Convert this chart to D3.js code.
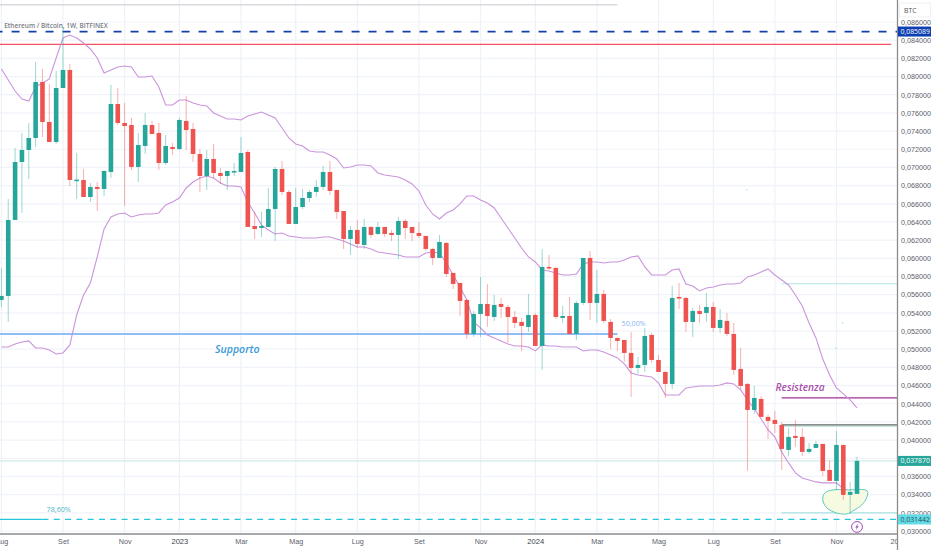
<!DOCTYPE html>
<html lang="it">

<head>
    <meta charset="UTF-8">
    <title>Ethereum / Bitcoin, 1W, BITFINEX</title>
    <script src="https://d3js.org/d3.v7.min.js"></script>
    <style>
        body {
            margin: 0;
            background: #fff;
            overflow: hidden;
        }

        svg {
            display: block;
            font-family: 'Open Sans', 'Noto Sans', sans-serif;
        }

        .axis text {
            font-size: 7.2px;
            fill: #5d606b;
        }
    </style>
</head>

<body>
    <div id="chart"></div>

    <script>
        const width = 932;
        const height = 550;

        // all prices are in 0.00001 BTC, one entry per week
        const opens = [5542, 5586, 6422, 7060, 7192, 7324, 7940, 7500, 7280, 7874, 8072, 6851, 6862, 6675, 6785, 6763, 6950, 7698, 7489, 7467, 7005, 7236, 7467, 7379, 7049, 7225, 7203, 7511, 7423, 7148, 6906, 7093, 6939, 6906, 6944, 6950, 7170, 6356, 6334, 6345, 6543, 6983, 6730, 6378, 6565, 6664, 6730, 6785, 6950, 6752, 6521, 6213, 6312, 6147, 6345, 6268, 6345, 6279, 6257, 6411, 6345, 6279, 6246, 6103, 6004, 6169, 5839, 5729, 5542, 5168, 5388, 5498, 5355, 5498, 5465, 5355, 5300, 5245, 5377, 5036, 5905, 5894, 5344, 5366, 5168, 5509, 6004, 5509, 5608, 5300, 5124, 5102, 4959, 4794, 4827, 5157, 4882, 4750, 4618, 5575, 5564, 5300, 5421, 5399, 5465, 5234, 5311, 5168, 4783, 4618, 4332, 4453, 4255, 4222, 4167, 3892, 4046, 4035, 3870, 3914, 3958, 3672, 3551, 3947, 3397, 3408];
        const highs = [5894, 6653, 7214, 7379, 7489, 8160, 8083, 7918, 8061, 8545, 8138, 7159, 6983, 6829, 6840, 6970, 7907, 7874, 7709, 7544, 7379, 7599, 7511, 7489, 7357, 7269, 7544, 7786, 7489, 7203, 7192, 7258, 6994, 6961, 7049, 7335, 7192, 6510, 6510, 6774, 7005, 7071, 6752, 6774, 6763, 6752, 6862, 7016, 7071, 6752, 6521, 6356, 6422, 6433, 6356, 6400, 6345, 6312, 6455, 6433, 6345, 6400, 6246, 6114, 6257, 6180, 5839, 5729, 5553, 5421, 5795, 5718, 5597, 5564, 5487, 5421, 5344, 5608, 5399, 6103, 6037, 5905, 5476, 5575, 5531, 6004, 6081, 5872, 5652, 5333, 5124, 5102, 5190, 4915, 5234, 5179, 4937, 4761, 5696, 5729, 5575, 5454, 5487, 5619, 5520, 5443, 5399, 5289, 5014, 4629, 4596, 4486, 4277, 4321, 4200, 4134, 4222, 4134, 3969, 3991, 3958, 3771, 4101, 3947, 3540, 3815];
        const lows = [5465, 5300, 6422, 6499, 6873, 7225, 7335, 7280, 7258, 7874, 6796, 6653, 6675, 6620, 6521, 6686, 6884, 7467, 6576, 6972, 6840, 7148, 7368, 6972, 7027, 7137, 7192, 7192, 7060, 6730, 6752, 6884, 6818, 6752, 6906, 6950, 6345, 6213, 6235, 6345, 6191, 6697, 6378, 6378, 6543, 6620, 6675, 6752, 6697, 6433, 6103, 6037, 6114, 6103, 6224, 6257, 6235, 6191, 5993, 6213, 6191, 6224, 6081, 5927, 6004, 5795, 5663, 5366, 5113, 5135, 5135, 5245, 5311, 5344, 5069, 5234, 4981, 5190, 5036, 4772, 5872, 5333, 5289, 5168, 5102, 5487, 5322, 5289, 5289, 5003, 4981, 4860, 4475, 4728, 4750, 4849, 4750, 4464, 4563, 5443, 5190, 5135, 5289, 5300, 5190, 5179, 5146, 4717, 4552, 3661, 4288, 4255, 4013, 4079, 3672, 3826, 3925, 3826, 3848, 3914, 3606, 3551, 3452, 3342, 3188, 3408];
        const closes = [5586, 6422, 7060, 7192, 7324, 7940, 7500, 7280, 7874, 8072, 6862, 6866, 6675, 6785, 6763, 6961, 7698, 7489, 7456, 7005, 7247, 7467, 7368, 7049, 7236, 7203, 7522, 7412, 7148, 6906, 7093, 6939, 6906, 6961, 6961, 7159, 6345, 6323, 6356, 6543, 6983, 6730, 6378, 6565, 6664, 6730, 6785, 6950, 6741, 6510, 6213, 6312, 6158, 6345, 6257, 6345, 6268, 6257, 6411, 6334, 6279, 6246, 6103, 6004, 6180, 5828, 5718, 5531, 5168, 5388, 5498, 5366, 5487, 5465, 5355, 5289, 5256, 5377, 5036, 5905, 5894, 5355, 5366, 5168, 5509, 6004, 5509, 5608, 5311, 5124, 5091, 4959, 4794, 4827, 5146, 4882, 4750, 4618, 5564, 5564, 5300, 5421, 5388, 5465, 5234, 5322, 5168, 4772, 4596, 4332, 4464, 4255, 4211, 4178, 3903, 4035, 4024, 3870, 3903, 3958, 3661, 3551, 3947, 3397, 3430, 3771];
        const upperBand = [8083, 7962, 7841, 7753, 7731, 7885, 7929, 7973, 8204, 8424, 8457, 8424, 8369, 8303, 8204, 8039, 8072, 8105, 8116, 8105, 7995, 7995, 8006, 7885, 7687, 7687, 7742, 7742, 7709, 7687, 7676, 7599, 7566, 7533, 7533, 7522, 7566, 7588, 7610, 7577, 7544, 7434, 7324, 7258, 7236, 7181, 7170, 7170, 7137, 7093, 6994, 7005, 7027, 7027, 7016, 6939, 6917, 6906, 6895, 6862, 6818, 6741, 6587, 6488, 6433, 6499, 6532, 6598, 6686, 6686, 6642, 6609, 6554, 6444, 6334, 6224, 6114, 6015, 5960, 5872, 5861, 5839, 5817, 5817, 5828, 5938, 5960, 5960, 5949, 5960, 5960, 5982, 6015, 6026, 5905, 5817, 5817, 5817, 5872, 5883, 5718, 5696, 5641, 5674, 5685, 5707, 5718, 5718, 5729, 5795, 5817, 5850, 5883, 5817, 5762, 5707, 5597, 5476, 5289, 5124, 4893, 4717, 4574, 4508, 4442, 4354];
        const lowerBand = [5025, 5025, 5058, 5080, 5091, 5014, 5014, 4992, 4948, 4959, 5047, 5377, 5597, 5729, 6015, 6323, 6455, 6488, 6499, 6455, 6477, 6488, 6488, 6499, 6587, 6620, 6664, 6774, 6840, 6884, 6906, 6884, 6829, 6796, 6796, 6785, 6620, 6499, 6367, 6312, 6268, 6279, 6246, 6235, 6224, 6224, 6224, 6235, 6235, 6213, 6191, 6158, 6125, 6125, 6103, 6070, 6059, 6048, 6037, 6015, 6015, 6015, 6059, 6070, 6059, 5949, 5817, 5685, 5542, 5300, 5234, 5157, 5124, 5091, 5058, 5036, 5036, 5025, 4981, 5047, 5036, 5036, 5025, 5025, 5025, 4981, 4992, 4992, 4970, 4937, 4904, 4838, 4739, 4717, 4706, 4695, 4629, 4497, 4497, 4497, 4574, 4585, 4596, 4596, 4596, 4607, 4629, 4618, 4552, 4442, 4343, 4233, 4112, 4035, 3870, 3749, 3639, 3584, 3562, 3540, 3529, 3529, 3529, 3463, 3441, 3408];

        // time axis, week index of each label
        const timeTicks = [0, 9, 18, 26, 35, 43, 52, 61, 70, 78, 87, 96, 104, 113, 122, 131];
        const timeLabels = ["Aug", "Set", "Nov", "2023", "Mar", "Mag", "Lug", "Set", "Nov", "2024", "Mar", "Mag", "Lug", "Set", "Nov", "2025"];
        const priceTicks = d3.range(3000, 8601, 200);

        // hand drawn levels: price, first week, last week
        const levelPrices = [8790, 8495, 8353, 5168, 5720, 4464, 4150, 4167, 3771, 3199, 3127, 3127];
        const levelStarts = [-1, -1, -1, -1, 114, 114, 114, 114, -1, 114, -1, 6];
        const levelEnds = [90, 131, 130, 90, 131, 131, 131, 131, 131, 131, 6, 131];
        const levelColors = ["#d9dade", "#1440a8", "#f7525f", "#8fbdf8", "#b2e5e0", "#a3308f", "#c5e8e4", "#33413c", "#c8e6e2", "#a8e3df", "#26c6da", "#26c6da"];
        const levelWidths = [1.5, 1.7, 1.2, 2, 1.2, 1.3, 1, 1, 1, 1.2, 1.3, 1.3];
        const levelDashes = [null, "8 9", null, null, null, null, null, null, null, null, null, "6 5.3"];

        // brush around the last lows
        const brushWeeks = [120, 120.3, 121.5, 123.5, 126.5, 126.4, 125.7, 124.4, 123.5, 122, 120.6];
        const brushPrices = [3342, 3419, 3452, 3452, 3441, 3364, 3287, 3221, 3188, 3199, 3254];

        const strayWeeks = [108.9, 122.9, 121.9];
        const strayPrices = [6752, 5289, 5014];

        const x = d3.scaleLinear().domain([0, 125]).range([1.4, 857]);
        const y = d3.scaleLinear().domain([3000, 8600]).range([531, 22]);
        const priceText = v => (v / 100000).toFixed(6).replace(".", ",");

        const svg = d3.select("#chart").append("svg")
            .attr("width", width)
            .attr("height", height);

        svg.append("clipPath").attr("id", "plot")
            .append("rect").attr("width", 897).attr("height", 534);

        const g = svg.append("g").attr("clip-path", "url(#plot)");

        // Grid
        g.selectAll(".hgrid")
            .data(priceTicks)
            .enter().append("line")
            .attr("x1", 0).attr("x2", 897)
            .attr("y1", d => y(d)).attr("y2", d => y(d))
            .attr("stroke", "#f0f3fa")
            .attr("stroke-width", 1.2);

        g.selectAll(".vgrid")
            .data(timeTicks)
            .enter().append("line")
            .attr("x1", d => x(d)).attr("x2", d => x(d))
            .attr("y1", 0).attr("y2", 534)
            .attr("stroke", "#eef2f8")
            .attr("stroke-width", 1.2);

        // Levels
        g.selectAll(".level")
            .data(levelPrices)
            .enter().append("line")
            .attr("x1", (d, i) => x(levelStarts[i]))
            .attr("x2", (d, i) => x(levelEnds[i]))
            .attr("y1", d => y(d)).attr("y2", d => y(d))
            .attr("stroke", (d, i) => levelColors[i])
            .attr("stroke-width", (d, i) => levelWidths[i])
            .attr("stroke-dasharray", (d, i) => levelDashes[i]);

        // Bollinger bands
        const bandLine = d3.line().x((d, i) => x(i)).y(d => y(d));

        [upperBand, lowerBand].forEach(band => {
            g.append("path")
                .attr("d", bandLine(band))
                .attr("fill", "none")
                .attr("stroke", "#ca94dc")
                .attr("stroke-width", 1.1);
        });

        // Brush
        const brush = d3.line()
            .x(d => x(d))
            .y((d, i) => y(brushPrices[i]))
            .curve(d3.curveCatmullRomClosed);

        g.append("path")
            .attr("d", brush(brushWeeks))
            .attr("fill", "#f6fae0")
            .attr("stroke", "#62c9c3")
            .attr("stroke-width", 1);

        // Candles
        const candles = opens.map((o, i) => ({ i, o, h: highs[i], l: lows[i], c: closes[i] }));
        const upColor = "#26a69a";
        const downColor = "#ef5350";

        g.selectAll(".wick")
            .data(candles)
            .enter().append("line")
            .attr("x1", d => x(d.i)).attr("x2", d => x(d.i))
            .attr("y1", d => y(d.h)).attr("y2", d => y(d.l))
            .attr("stroke", d => d.c >= d.o ? upColor : downColor)
            .attr("stroke-opacity", 0.45)
            .attr("stroke-width", 1);

        g.selectAll(".body")
            .data(candles)
            .enter().append("rect")
            .attr("x", d => x(d.i) - 2.3)
            .attr("width", 4.6)
            .attr("y", d => y(Math.max(d.o, d.c)))
            .attr("height", d => Math.max(1.6, Math.abs(y(d.o) - y(d.c))))
            .attr("fill", d => d.c >= d.o ? upColor : downColor);

        g.selectAll(".stray")
            .data(strayWeeks)
            .enter().append("circle")
            .attr("cx", d => x(d))
            .attr("cy", (d, i) => y(strayPrices[i]))
            .attr("r", 0.6)
            .attr("fill", "#7fd8dc");

        // Notes
        const note = (text, week, price, color, size, style, weight) => g.append("text")
            .attr("x", x(week)).attr("y", y(price))
            .attr("fill", color)
            .attr("font-size", size)
            .attr("font-style", style)
            .attr("font-weight", weight)
            .text(text);

        note("Ethereum / Bitcoin, 1W, BITFINEX", 0.4, 8530, "#787b86", 6.5, "normal", 600);
        note("Supporto", 31.2, 4962, "#3a9ad9", 10.6, "italic", 600);
        note("Resistenza", 113.1, 4540, "#a94fa8", 10.2, "italic", 600);
        note("50,00%", 90.6, 5250, "#8ab8f5", 7.2, "normal", 400);
        note("78,60%", 6.6, 3212, "#4db6c6", 7.2, "normal", 400);

        // Icon under the last candle
        const icon = svg.append("g").attr("transform", `translate(${x(125)},${y(3045)})`);
        icon.append("circle").attr("r", 5.4).attr("fill", "#fff").attr("stroke", "#a24bb0").attr("stroke-width", 1);
        icon.append("path").attr("d", "M1,-3.4 L-1.7,0.5 L-0.2,0.5 L-1,3.4 L1.7,-0.6 L0.2,-0.6 Z").attr("fill", "#a24bb0");

        // Axes
        const xAxis = d3.axisBottom(x)
            .tickValues(timeTicks)
            .tickSize(0)
            .tickPadding(5)
            .tickFormat((d, i) => timeLabels[i]);

        const xAxisG = svg.append("g").attr("class", "axis")
            .attr("clip-path", "url(#bottomClip)")
            .attr("transform", "translate(0,534)")
            .call(xAxis);
        xAxisG.select(".domain").remove();
        xAxisG.selectAll("text").filter(d => d === 26 || d === 78)
            .style("fill", "#3c3f4a").style("font-size", "7.6px");

        svg.append("clipPath").attr("id", "bottomClip")
            .append("rect").attr("y", 0).attr("width", 897).attr("height", 16);

        // the last price tag sits where 0,038000 would be
        const yAxis = d3.axisRight(y)
            .tickValues(priceTicks.filter(d => d !== 3800))
            .tickSize(0)
            .tickPadding(4)
            .tickFormat(priceText);

        const yAxisG = svg.append("g").attr("class", "axis")
            .attr("transform", "translate(897,0)")
            .call(yAxis);
        yAxisG.select(".domain").remove();

        svg.append("line").attr("x1", 0).attr("x2", 897).attr("y1", 534).attr("y2", 534)
            .attr("stroke", "#8a8c92").attr("stroke-width", 1.3);
        svg.append("line").attr("x1", 897.5).attr("x2", 897.5).attr("y1", 0).attr("y2", height)
            .attr("stroke", "#8a8c92").attr("stroke-width", 1.3);

        // Currency box
        svg.append("rect").attr("x", 899.5).attr("y", 3).attr("width", 31).attr("height", 14)
            .attr("fill", "#fff").attr("stroke", "#f0f1f4");
        svg.append("text").attr("x", 904).attr("y", 12.5)
            .attr("font-size", 6.8).attr("fill", "#555").text("BTC");

        // Price tags
        const tagPrices = [8495, 3771, 3127];
        const tagTexts = ["0,085089", "0,037870", "0,031442"];
        const tagFills = ["#0e3fb2", "#26a69a", "#63dbe6"];
        const tagInks = ["#fff", "#fff", "#26545c"];

        tagPrices.forEach((p, i) => {
            svg.append("rect")
                .attr("x", 898).attr("y", y(p) - 5)
                .attr("width", 33).attr("height", 10)
                .attr("fill", tagFills[i]);
            svg.append("text")
                .attr("x", 900.5).attr("y", y(p) + 2.4)
                .attr("font-size", 6.9)
                .attr("font-weight", 500)
                .attr("fill", tagInks[i])
                .text(tagTexts[i]);
        });
    </script>
</body>

</html>
